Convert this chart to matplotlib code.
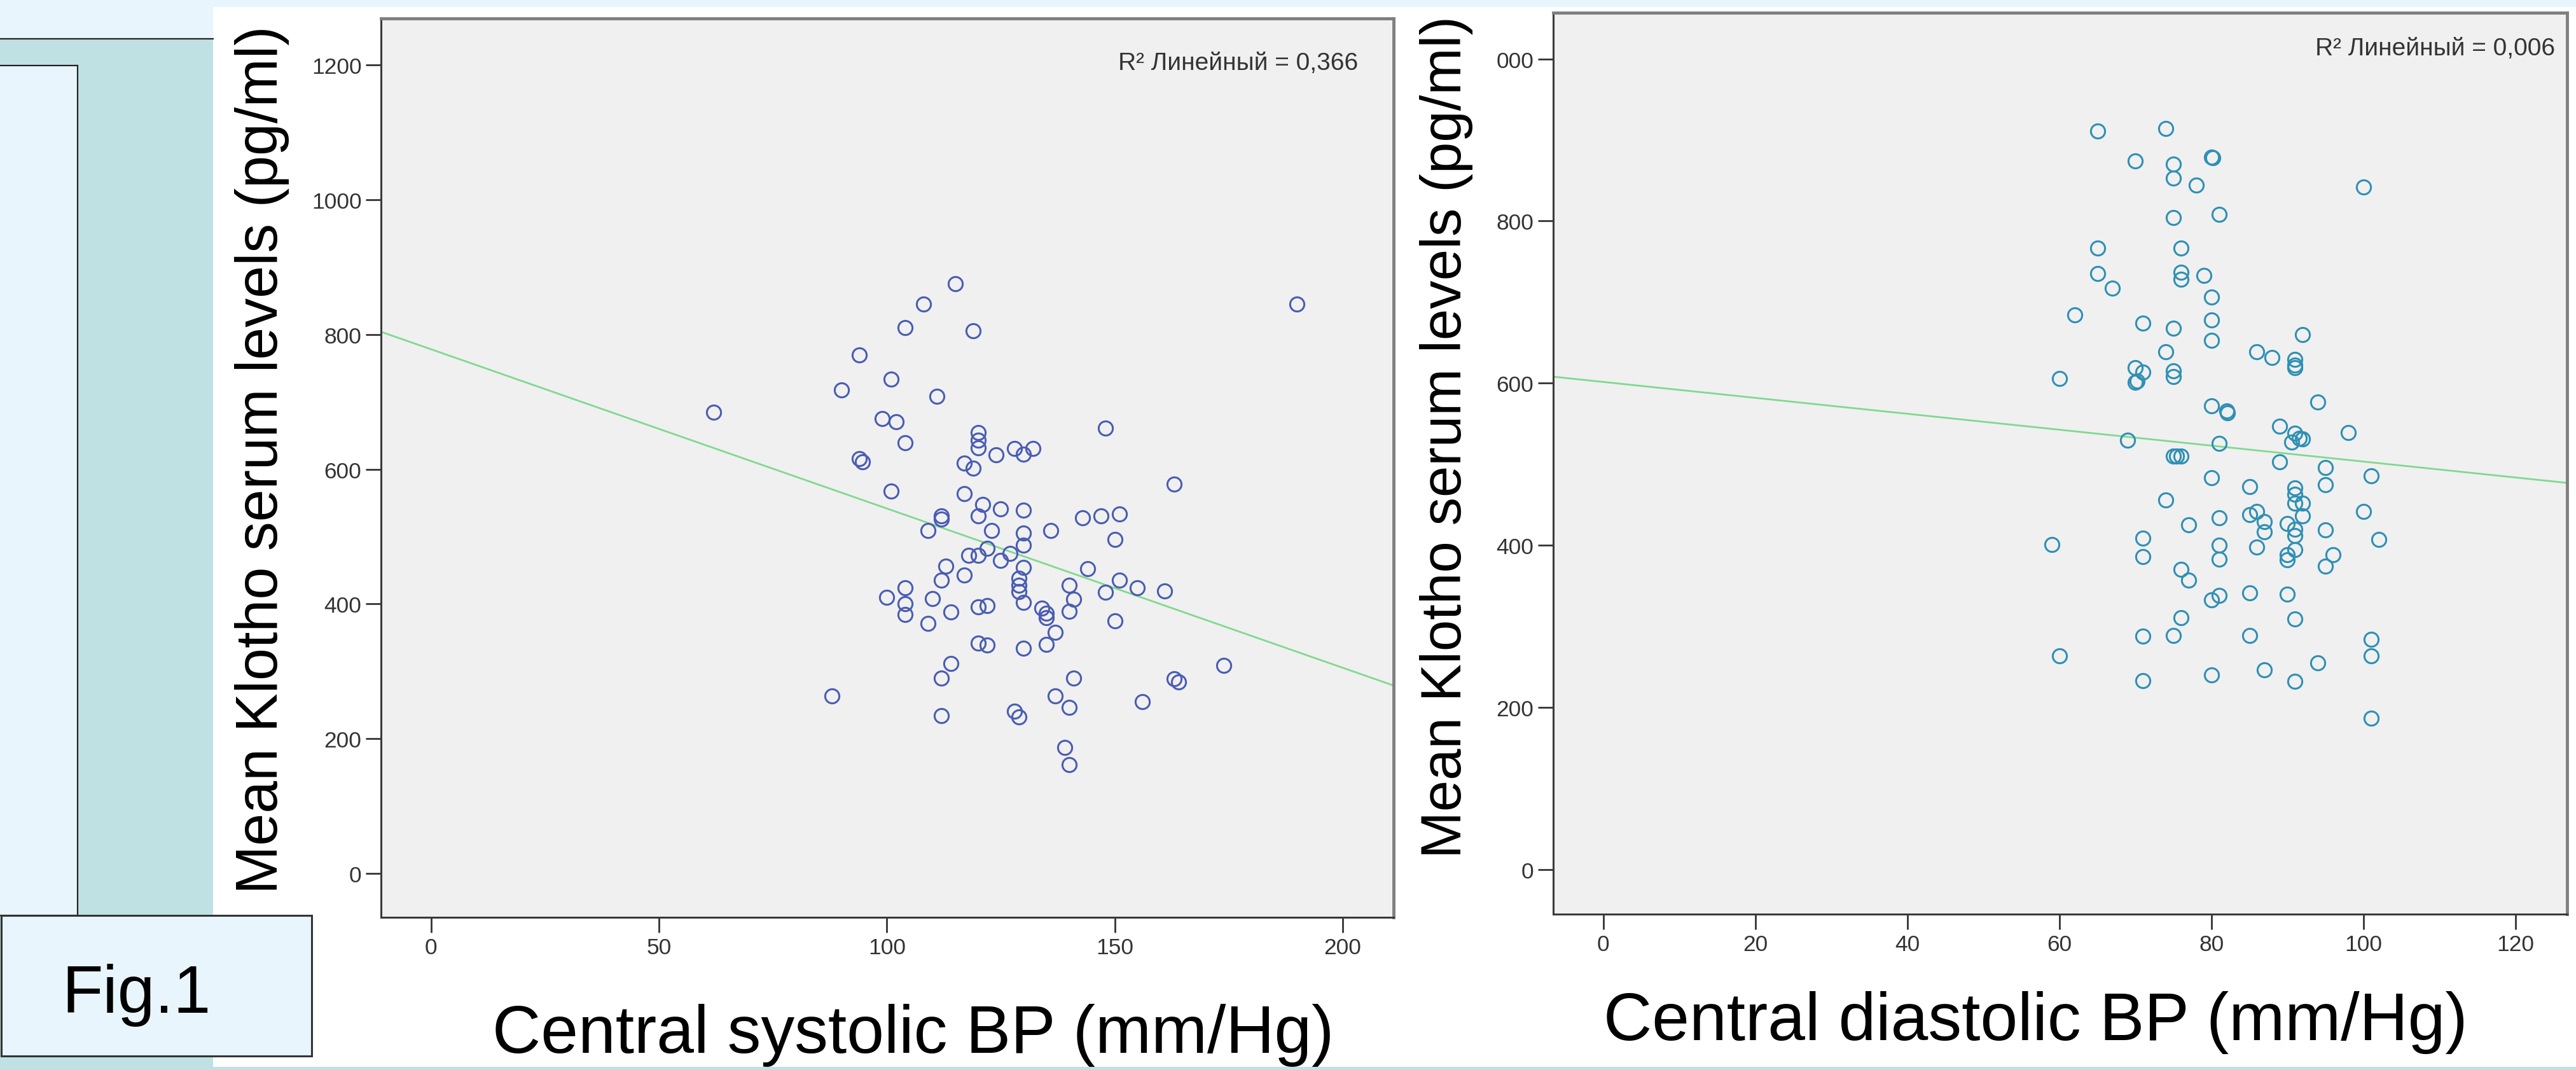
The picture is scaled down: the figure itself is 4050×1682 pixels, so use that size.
import matplotlib.pyplot as plt
from matplotlib.patches import Rectangle
from matplotlib.lines import Line2D

plt.rcParams['font.family'] = ['Liberation Sans', 'DejaVu Sans']

# central systolic BP (mm/Hg) x mean Klotho (pg/ml)
sys_bp = [115, 108, 190, 104, 119, 94, 101, 90, 111, 62, 99, 102, 104, 94, 94.6,
          120, 120, 120, 128, 132, 130, 124, 148, 117, 119, 101, 117, 163, 121, 125,
          130, 112, 112, 120, 143, 147, 151, 109, 123, 130, 136, 150, 130, 122, 118,
          120, 127, 125, 113, 130, 144, 112, 117, 129, 129, 129, 151, 140, 155, 161,
          104, 100, 110, 148, 104, 130, 141, 120, 122, 134, 135, 135, 104, 114, 140,
          109, 150, 137, 120, 122, 130, 135, 114, 174, 112, 141, 163, 164, 88, 137,
          156, 140, 128, 129, 112, 139, 140]
sys_klotho = [875, 845, 845, 810, 805, 770, 734, 718, 708, 685, 675, 670, 639, 616, 611,
              654, 643, 632, 631, 631, 622, 621, 661, 609, 602, 568, 564, 578, 548, 541,
              539, 531, 526, 531, 528, 531, 534, 509, 509, 505, 509, 496, 487, 483, 472,
              472, 475, 465, 456, 454, 452, 435, 443, 438, 428, 418, 435, 428, 424, 419,
              424, 410, 408, 417, 400, 402, 407, 396, 398, 394, 386, 380, 384, 388, 389,
              371, 375, 358, 342, 339, 334, 340, 312, 309, 290, 290, 289, 284, 264, 264,
              255, 247, 241, 232, 234, 187, 162]

# central diastolic BP (mm/Hg) x mean Klotho (pg/ml)
dia_bp = [65, 74, 70, 75, 75, 80, 80.2, 78, 100, 81, 75, 65, 76, 65, 76, 76, 79, 67,
          80, 62, 71, 80, 75, 80, 92, 74, 86, 88, 91, 91, 91, 70, 71, 75, 75, 70,
          70.2, 60, 94, 80, 82, 82.1, 98, 89, 91, 91.6, 92, 90.6, 69, 81, 75, 75.4,
          76, 89, 95, 101, 80, 95, 85, 91, 91, 74, 91, 92, 100, 85, 86, 92, 81, 87,
          90, 77, 95, 87, 91, 91, 59, 71, 81, 102, 86, 91, 90, 90, 96, 71, 81, 95,
          76, 77, 85, 90, 81, 80, 76, 91, 71, 75, 85, 101, 60, 101, 94, 87, 80, 71,
          91, 101]
dia_klotho = [911, 914, 874, 870, 853, 879, 878, 844, 842, 808, 804, 767, 767, 735,
              737, 728, 733, 717, 706, 684, 674, 678, 668, 653, 660, 639, 639, 632,
              629, 622, 619, 619, 614, 615, 608, 601, 603, 606, 577, 572, 566, 563,
              539, 547, 538, 532, 531, 527, 530, 526, 510, 510, 510, 503, 496, 486,
              483, 475, 472, 471, 463, 456, 452, 452, 442, 438, 442, 436, 434, 429,
              427, 425, 419, 417, 420, 412, 401, 409, 400, 407, 398, 395, 388, 382,
              388, 386, 383, 374, 370, 357, 341, 340, 338, 333, 311, 309, 288, 289,
              289, 284, 264, 264, 255, 246, 240, 233, 232, 187]

# regression lines, end points
fit_sys_x = [-11, 211.2]
fit_sys_y = [804, 279]
fit_dia_x = [-6.6, 126.8]
fit_dia_y = [608, 477]

sys_xticks = [0, 50, 100, 150, 200]
sys_yticks = [0, 200, 400, 600, 800, 1000, 1200]
dia_xticks = [0, 20, 40, 60, 80, 100, 120]
dia_yticks = [0, 200, 400, 600, 800, 1000]
dia_ylabels = ['0', '200', '400', '600', '800', '000']

W, H = 4050, 1683
fig = plt.figure(figsize=(W / 100, H / 100), dpi=100, facecolor='white')

def box(x, y, w, h, **kw):
    # pixel box (from top left) -> figure coords
    fig.patches.append(Rectangle((x / W, 1 - (y + h) / H), w / W, h / H,
                                 transform=fig.transFigure, **kw))

blue_bg = '#e8f5fd'
teal = '#bfe1e3'
box(0, 0, W, 12, facecolor=blue_bg, edgecolor='none')
box(0, 0, 335, 62, facecolor=blue_bg, edgecolor='none')
box(0, 62, 335, H - 62, facecolor=teal, edgecolor='none')
box(0, 1678, W, 10, facecolor=teal, edgecolor='none')
fig.lines.append(Line2D([0, 335 / W], [1 - 62 / H, 1 - 62 / H], color='#222222',
                        lw=1.6, transform=fig.transFigure))
box(-10, 104, 132, 1336, facecolor=blue_bg, edgecolor='#222222', lw=1.6)
box(2, 1440, 488, 221, facecolor=blue_bg, edgecolor='#333333', lw=2.2)
fig.text(97 / W, 1 - 1592 / H, 'Fig.1', fontsize=76, color='black', va='baseline', ha='left')

# bits of a title line cut off at the top
for px, ch in [(58, '('), (548, ')'), (1282, ')')]:
    fig.text(px / W, 1 + 26 / H, ch, fontsize=76, color='black', va='baseline', ha='left')


def scatter_panel(rect, xs, ys, fx, fy, color, xlim, ylim, xticks, yticks, ylabels=None):
    ax = fig.add_axes(rect)
    ax.set_facecolor('#f0f0f0')
    ax.plot(xs, ys, 'o', markersize=16, markerfacecolor='none', markeredgecolor=color,
            markeredgewidth=2.2, zorder=3)
    ax.plot(fx, fy, color='#80d98f', lw=2.0, zorder=2)
    ax.set_xlim(xlim)
    ax.set_ylim(ylim)
    ax.set_xticks(xticks)
    ax.set_yticks(yticks)
    if ylabels:
        ax.set_yticklabels(ylabels)
    ax.tick_params(direction='out', length=17, width=2, color='#333333',
                   labelsize=25.5, labelcolor='#333333', pad=5)
    for s in ['left', 'bottom']:
        ax.spines[s].set_color('#3a3a3a')
        ax.spines[s].set_linewidth(2.2)
    for s in ['top', 'right']:
        ax.spines[s].set_color('#7f7f7f')
        ax.spines[s].set_linewidth(3.5)
    return ax


ax1 = scatter_panel([599 / W, 1 - 1443 / H, 1592 / W, 1413 / H], sys_bp, sys_klotho,
                    fit_sys_x, fit_sys_y, '#4a5db3', (-11, 211.2), (-65, 1269),
                    sys_xticks, sys_yticks)
ax2 = scatter_panel([2442 / W, 1 - 1438 / H, 1594 / W, 1417 / H], dia_bp, dia_klotho,
                    fit_dia_x, fit_dia_y, '#2f90b4', (-6.6, 126.8), (-55, 1057),
                    dia_xticks, dia_yticks, dia_ylabels)

fig.text(2135 / W, 1 - 100 / H, 'R² Линейный = 0,366', fontsize=28, color='#333333',
         ha='right', va='center')
fig.text(4017 / W, 1 - 77 / H, 'R² Линейный = 0,006', fontsize=28, color='#333333',
         ha='right', va='center')

fig.text(412 / W, 1 - 723 / H, 'Mean Klotho serum levels (pg/ml)', fontsize=66,
         rotation=90, ha='center', va='center')
fig.text(2274 / W, 1 - 687 / H, 'Mean Klotho serum levels (pg/ml)', fontsize=64,
         rotation=90, ha='center', va='center')
fig.text(1436 / W, 1 - 1655 / H, 'Central systolic BP (mm/Hg)', fontsize=76,
         ha='center', va='baseline')
fig.text(3200 / W, 1 - 1635 / H, 'Central diastolic BP (mm/Hg)', fontsize=76,
         ha='center', va='baseline')

fig.savefig('out.png', dpi=100)
